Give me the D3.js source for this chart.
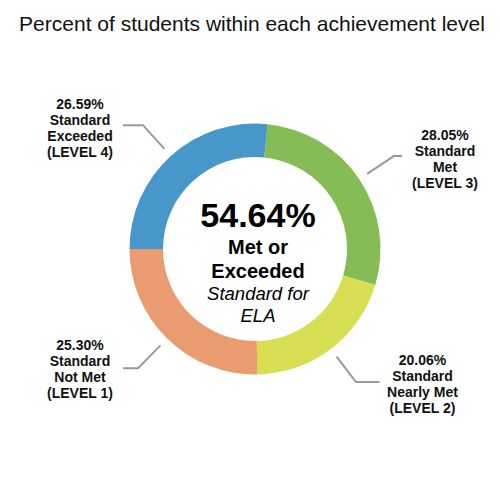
<!DOCTYPE html>
<html>
<head>
<meta charset="utf-8">
<script src="https://cdn.jsdelivr.net/npm/d3@7/dist/d3.min.js"></script>
<style>
  html, body { margin: 0; padding: 0; background: #fff; }
  svg { display: block; font-family: "Liberation Sans", Arial, sans-serif; }
</style>
</head>
<body>
<svg id="chart" width="500" height="493"></svg>
<script>
// ---- data ----
const levels = ["LEVEL 3", "LEVEL 2", "LEVEL 1", "LEVEL 4"];
const levelNames = [["Standard", "Met"], ["Standard", "Nearly Met"], ["Standard", "Not Met"], ["Standard", "Exceeded"]];
const percents = [28.05, 20.06, 25.30, 26.59];
const colors = ["#85bc56", "#d8de52", "#e99c70", "#4897ca"];
const titleText = "Percent of students within each achievement level";
const centerValue = "54.64%";
const centerBold = ["Met or", "Exceeded"];
const centerItalic = ["Standard for", "ELA"];

// ---- layout ----
const W = 500, H = 493;
const cx = 255, cy = 249;
const rOuter = 125.5, rInner = 92;
const startOffset = 5.72 * Math.PI / 180;
// label text anchor (center x, first baseline y) per slice, in slice order
const labelPos = [[445, 140], [422.5, 365], [80, 350], [80, 109]];
const lineGap = 16;

const svg = d3.select("#chart");

svg.append("text")
  .attr("x", 252).attr("y", 31)
  .attr("text-anchor", "middle")
  .attr("font-size", 21)
  .attr("fill", "#111")
  .text(titleText);

const g = svg.append("g").attr("transform", `translate(${cx},${cy})`);

const pie = d3.pie().sort(null).value(d => d)
  .startAngle(startOffset).endAngle(startOffset + 2 * Math.PI);
const arcs = pie(percents);

const arc = d3.arc().innerRadius(rInner).outerRadius(rOuter);

g.selectAll("path.slice").data(arcs).join("path")
  .attr("class", "slice")
  .attr("d", arc)
  .attr("fill", (d, i) => colors[i]);

// leader lines
const arcStart = d3.arc().innerRadius(135).outerRadius(135);
const arcElbow = d3.arc().innerRadius(167).outerRadius(167);

arcs.forEach((d, i) => {
  const p0 = arcStart.centroid(d);
  const p1 = arcElbow.centroid(d);
  const lx = labelPos[i][0] - cx;
  const right = lx > 0;
  const endX = right ? lx - 43 : lx + 43;
  g.append("polyline")
    .attr("points", [p0, p1, [endX, p1[1]]].map(p => p.join(",")).join(" "))
    .attr("fill", "none")
    .attr("stroke", "#9a9a9a")
    .attr("stroke-width", 2);

  const lines = [percents[i].toFixed(2) + "%", ...levelNames[i], "(" + levels[i] + ")"];
  const t = svg.append("text")
    .attr("text-anchor", "middle")
    .attr("font-size", 14)
    .attr("font-weight", "bold")
    .attr("fill", "#111");
  lines.forEach((s, k) => {
    t.append("tspan")
      .attr("x", labelPos[i][0])
      .attr("y", labelPos[i][1] + k * lineGap)
      .text(s);
  });
});

// center text
const tx = 258;
svg.append("text").attr("x", tx).attr("y", 227)
  .attr("text-anchor", "middle").attr("font-size", 34).attr("font-weight", "bold")
  .attr("fill", "#000").text(centerValue);
svg.append("text").attr("x", tx).attr("y", 254)
  .attr("text-anchor", "middle").attr("font-size", 20).attr("font-weight", "bold")
  .attr("fill", "#000").text(centerBold[0]);
svg.append("text").attr("x", tx).attr("y", 278)
  .attr("text-anchor", "middle").attr("font-size", 20).attr("font-weight", "bold")
  .attr("fill", "#000").text(centerBold[1]);
svg.append("text").attr("x", tx).attr("y", 300)
  .attr("text-anchor", "middle").attr("font-size", 18.5).attr("font-style", "italic")
  .attr("fill", "#000").text(centerItalic[0]);
svg.append("text").attr("x", tx).attr("y", 322)
  .attr("text-anchor", "middle").attr("font-size", 18.5).attr("font-style", "italic")
  .attr("fill", "#000").text(centerItalic[1]);
</script>
</body>
</html>
